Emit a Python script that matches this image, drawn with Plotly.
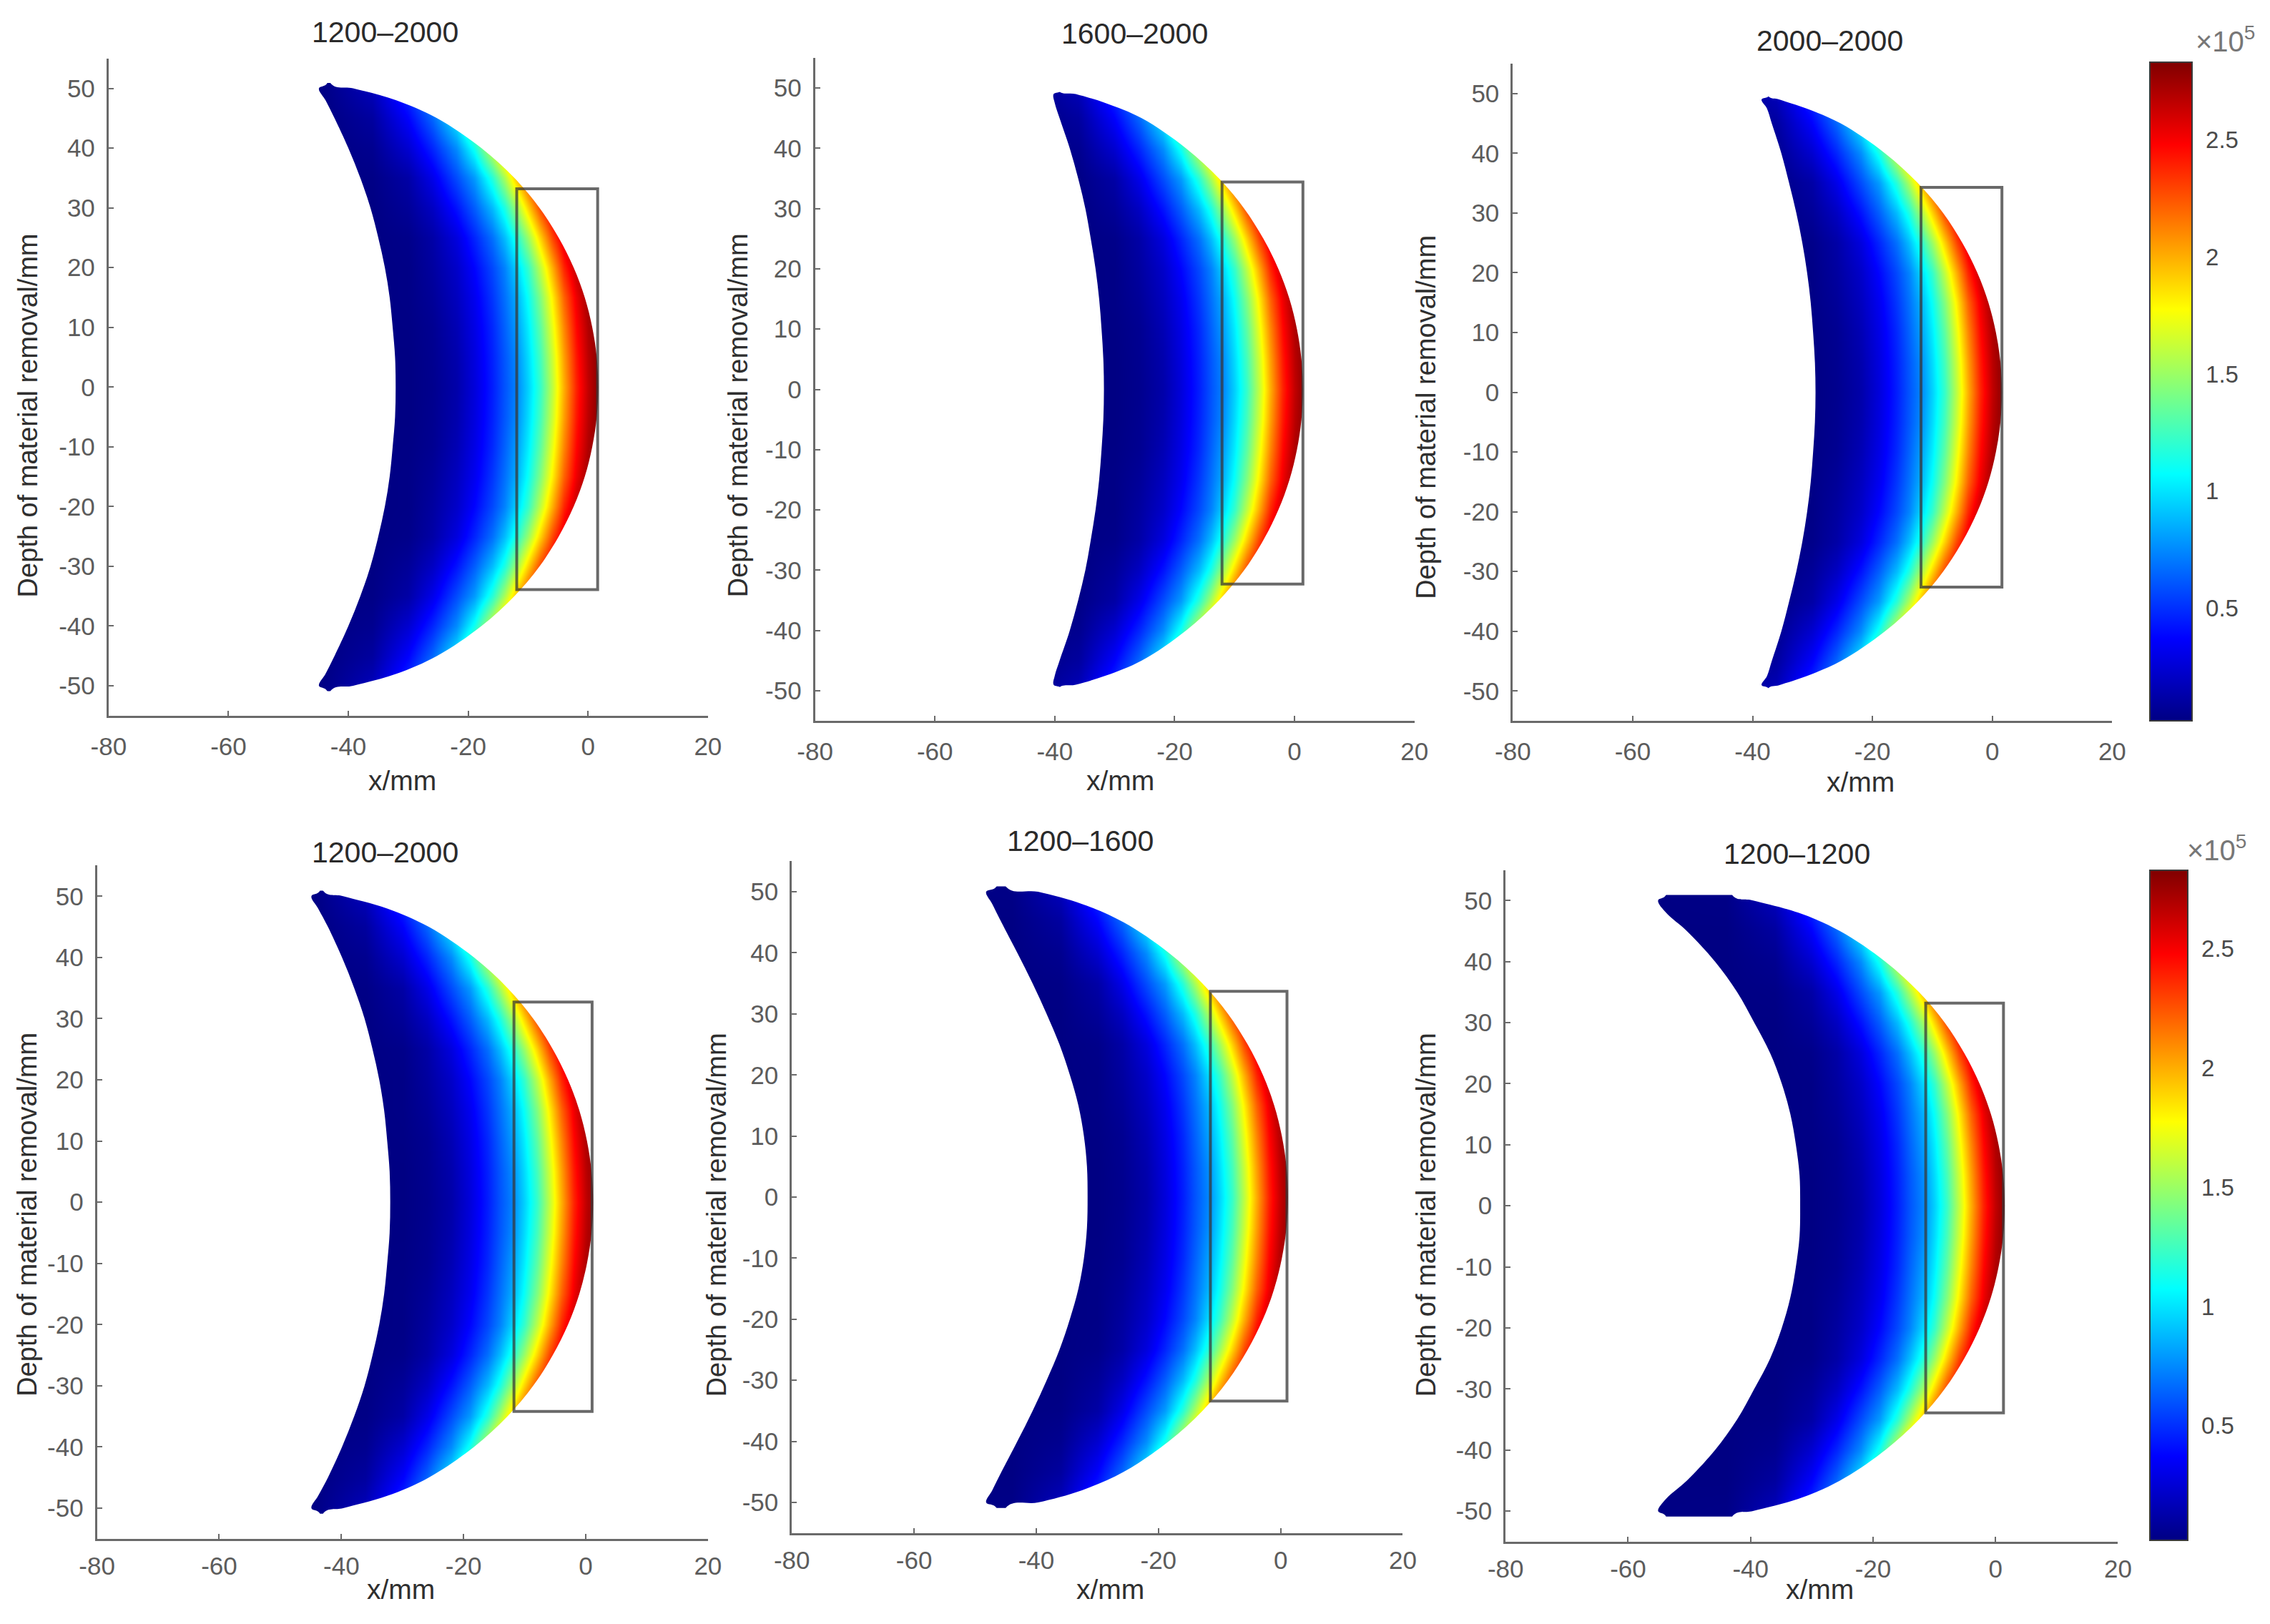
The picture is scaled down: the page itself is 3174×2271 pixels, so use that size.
import plotly.graph_objects as go

# ---------- data ----------
TITLES = ["1200–2000", "1600–2000", "2000–2000", "1200–2000", "1200–1600", "1200–1200"]
X_TICKS = [-80, -60, -40, -20, 0, 20]
Y_TICKS = [-50, -40, -30, -20, -10, 0, 10, 20, 30, 40, 50]
BAR_TICKS = [0.5, 1, 1.5, 2, 2.5]
Z_MIN, Z_MAX = 0.02, 2.83

# field values (x 10^5) on a coarse table, upper half of the crescent
FIELD_X = [-60, -44, -36, -30, -26, -22, -19, -16, -14, -12, -10, -8, -6, -4, -2, 0, 2, 5]
FIELD_Y = [0, 5, 10, 15, 20, 25, 30, 35, 40, 45, 50, 52]
FIELD_Z = [
    [.02, .02, .02, .02, .05, .13, .27, .45, .60, .73, .95, 1.22, 1.60, 2.00, 2.38, 2.65, 2.83, 2.83],
    [.02, .02, .02, .02, .055, .14, .28, .46, .61, .75, .98, 1.26, 1.64, 2.04, 2.41, 2.67, 2.83, 2.83],
    [.02, .02, .02, .025, .06, .16, .30, .48, .64, .80, 1.03, 1.33, 1.72, 2.11, 2.46, 2.70, 2.83, 2.83],
    [.02, .02, .02, .03, .08, .19, .33, .52, .68, .85, 1.10, 1.43, 1.82, 2.21, 2.52, 2.75, 2.83, 2.83],
    [.02, .02, .02, .03, .10, .22, .38, .57, .73, .95, 1.22, 1.60, 2.00, 2.38, 2.65, 2.83, 2.83, 2.83],
    [.02, .02, .02, .04, .12, .28, .47, .68, .89, 1.15, 1.50, 1.90, 2.29, 2.58, 2.79, 2.83, 2.83, 2.83],
    [.02, .02, .02, .08, .20, .42, .63, .89, 1.15, 1.50, 1.90, 2.29, 2.58, 2.79, 2.83, 2.83, 2.83, 2.83],
    [.02, .02, .03, .12, .31, .58, .80, 1.18, 1.54, 1.94, 2.32, 2.61, 2.80, 2.83, 2.83, 2.83, 2.83, 2.83],
    [.02, .02, .056, .24, .47, .76, 1.12, 1.66, 2.06, 2.42, 2.68, 2.83, 2.83, 2.83, 2.83, 2.83, 2.83, 2.83],
    [.02, .02, .10, .37, .65, 1.04, 1.54, 2.13, 2.47, 2.71, 2.83, 2.83, 2.83, 2.83, 2.83, 2.83, 2.83, 2.83],
    [.02, .03, .18, .52, .84, 1.41, 2.00, 2.50, 2.74, 2.83, 2.83, 2.83, 2.83, 2.83, 2.83, 2.83, 2.83, 2.83],
    [.02, .03, .18, .52, .84, 1.41, 2.00, 2.50, 2.74, 2.83, 2.83, 2.83, 2.83, 2.83, 2.83, 2.83, 2.83, 2.83],
]

# crescent outlines, upper half
EDGE_Y_50 = [0, 5, 10, 15, 20, 25, 30, 35, 40, 45, 48, 50, 50.9]
EDGE_Y_49 = [0, 5, 10, 15, 20, 25, 30, 35, 40, 45, 47.5, 49, 49.7]
EDGE_Y = [EDGE_Y_50, EDGE_Y_49, EDGE_Y_49, EDGE_Y_50, EDGE_Y_50, EDGE_Y_50]
EDGE_LEFT = [
    [-32.1, -32.2, -32.6, -33.1, -33.9, -35.0, -36.3, -38.0, -40.0, -42.3, -43.8, -44.9, -43.5],
    [-31.8, -31.9, -32.2, -32.6, -33.2, -34.0, -34.9, -36.1, -37.5, -39.2, -40.0, -40.2, -38.8],
    [-29.5, -29.6, -29.9, -30.3, -30.9, -31.7, -32.7, -33.9, -35.2, -36.8, -37.6, -38.5, -37.2],
    [-32.0, -32.1, -32.5, -33.0, -33.8, -34.9, -36.2, -37.9, -39.9, -42.2, -43.8, -44.9, -43.5],
    [-31.6, -31.7, -32.2, -33.1, -34.5, -36.2, -38.3, -40.6, -43.1, -45.7, -47.2, -48.2, -46.5],
    [-31.9, -32.0, -32.6, -33.5, -34.9, -36.8, -39.4, -42.2, -45.8, -50.4, -53.8, -55.1, -53.8],
]
EDGE_RIGHT = [
    [1.7, 1.45, 0.7, -0.55, -2.4, -4.9, -8.1, -12.3, -17.8, -25.2, -32.0, -39.2, -43.0],
    [1.4, 1.15, 0.4, -0.85, -2.7, -5.2, -8.4, -12.6, -18.1, -25.5, -31.5, -36.5, -39.5],
    [1.6, 1.35, 0.6, -0.65, -2.5, -5.0, -8.2, -12.4, -17.9, -25.3, -31.0, -35.5, -37.5],
    [1.2, 0.95, 0.2, -1.05, -2.9, -5.4, -8.6, -12.8, -18.3, -25.7, -32.5, -39.7, -43.0],
    [1.2, 0.95, 0.2, -1.05, -2.9, -5.4, -8.6, -12.8, -18.3, -25.7, -32.5, -39.7, -45.0],
    [1.5, 1.25, 0.5, -0.75, -2.6, -5.1, -8.3, -12.5, -18.0, -25.4, -32.2, -39.6, -43.0],
]

# outlined boxes: x0, x1, y0, y1
BOXES = [
    [-11.9, 1.6, -33.9, 33.2],
    [-12.1, 1.4, -32.3, 34.4],
    [-11.9, 1.6, -32.6, 34.3],
    [-11.75, 1.04, -34.2, 32.7],
    [-11.5, 1.04, -33.4, 33.7],
    [-11.4, 1.3, -33.9, 33.2],
]

# ---------- layout, pixel positions ----------
W, H = 3174, 2271
S = 3174 / 1568          # positions below are measured on the 1568 wide view
PAGE = 8                 # the page body's own margin
AX_X = [(75, 489), (563, 977), (1045, 1459), (67, 489), (547, 969), (1040, 1463)]
AX_Y = [(40.4, 494.4), (40, 498), (44, 498), (598, 1063), (595, 1059), (601, 1065)]
TITLE_POS = [(266, 22), (784, 23), (1264, 28), (266, 589), (746, 581), (1241, 590)]
XLAB_POS = [(278, 539), (774, 539), (1285, 540), (277, 1098), (767, 1098), (1257, 1098)]
YLAB_POS = [(19, 287), (510, 287), (985, 288), (19, 839), (495, 839), (985, 839)]
X_STANDOFF = [10, 10, 10, 5, 5, 5]
BARS = {2: (1485, 1514, 43, 498, (1537, 27)), 5: (1485, 1511, 601, 1064, (1531, 586))}

FONT = "Liberation Sans"
TICK_C = "#5c5c5c"
AXIS_C = "#6a6a6a"
JET = [[0, "#000083"], [0.125, "#0000FF"], [0.375, "#00FFFF"], [0.625, "#FFFF00"],
       [0.875, "#FF0000"], [1, "#800000"]]


def fx(px):
    return (px * S - PAGE) / W


def fy(py):
    return 1 - (py * S - PAGE) / H


def note(text, px, py, size, color, angle=0):
    return dict(text=text, x=fx(px), y=fy(py), xref="paper", yref="paper", showarrow=False,
                xanchor="center", yanchor="middle", textangle=angle,
                font=dict(family=FONT, size=size, color=color))


rows_y = [-v for v in reversed(FIELD_Y[1:])] + FIELD_Y
rows_z = list(reversed(FIELD_Z[1:])) + FIELD_Z

fig = go.Figure()
shapes, annotations = [], []
layout = {}

for i in range(6):
    suf = "" if i == 0 else str(i + 1)
    xa, ya = "x" + suf, "y" + suf

    trace = dict(x=FIELD_X, y=rows_y, z=rows_z, zsmooth="best", zmin=Z_MIN, zmax=Z_MAX,
                 colorscale=JET, xaxis=xa, yaxis=ya, hoverinfo="skip")
    if i in BARS:
        x0, x1, y0, y1, unit = BARS[i]
        trace["showscale"] = True
        trace["colorbar"] = dict(
            x=fx(x0), xanchor="left", xpad=0, y=fy(y1), yanchor="bottom", ypad=0,
            len=(y1 - y0) * S / H, lenmode="fraction",
            thickness=(x1 - x0) * S, thicknessmode="pixels",
            outlinecolor="#3a3a3a", outlinewidth=2, tickvals=BAR_TICKS,
            ticktext=[f"{v:g}" for v in BAR_TICKS],
            ticks="outside", ticklen=12, tickcolor="rgba(0,0,0,0)",
            tickfont=dict(family=FONT, size=33, color="#4a4a4a"),
        )
        for v in BAR_TICKS:
            py = fy(y1) + (v - Z_MIN) / (Z_MAX - Z_MIN) * (y1 - y0) * S / H
            shapes.append(dict(type="line", xref="paper", yref="paper",
                               x0=fx(x1) - 10 / W, x1=fx(x1), y0=py, y1=py,
                               line=dict(color="#333333", width=2)))
        annotations.append(note("×10<sup>5</sup>", unit[0], unit[1], 40, "#777777"))
    else:
        trace["showscale"] = False
    fig.add_trace(go.Heatmap(**trace))

    ey, el, er = EDGE_Y[i], EDGE_LEFT[i], EDGE_RIGHT[i]
    down_y = list(reversed(ey)) + [-v for v in ey[1:]]
    # white cover over the table outside the crescent
    for edge, outer in ((el, -120), (er, 60)):
        edge_x = list(reversed(edge)) + edge[1:]
        fig.add_trace(go.Scatter(
            x=[outer, edge[-1]] + edge_x + [edge[-1], outer],
            y=[90, 90] + down_y + [-90, -90],
            mode="lines", line=dict(width=0, shape="spline", smoothing=1.0, simplify=False),
            fill="toself", fillcolor="white",
            xaxis=xa, yaxis=ya, hoverinfo="skip", showlegend=False))
    for sign in (1, -1):
        fig.add_trace(go.Scatter(
            x=[-120, 60, 60, -120], y=[sign * ey[-1], sign * ey[-1], sign * 90, sign * 90],
            mode="lines", line=dict(width=0), fill="toself", fillcolor="white",
            xaxis=xa, yaxis=ya, hoverinfo="skip", showlegend=False))

    bx0, bx1, by0, by1 = BOXES[i]
    shapes.append(dict(type="rect", xref=xa, yref=ya, x0=bx0, x1=bx1, y0=by0, y1=by1,
                       line=dict(color="rgba(55,55,55,0.75)", width=4)))

    common = dict(showgrid=False, zeroline=False, showline=True, linecolor=AXIS_C, linewidth=3,
                  ticks="inside", ticklen=7, tickwidth=2, tickcolor=AXIS_C,
                  tickfont=dict(family=FONT, size=35, color=TICK_C))
    layout["xaxis" + suf] = dict(common, domain=[fx(AX_X[i][0]), fx(AX_X[i][1])], anchor=ya,
                                 range=[-80, 20], tickvals=X_TICKS,
                                 ticktext=[str(v) for v in X_TICKS],
                                 ticklabelstandoff=X_STANDOFF[i])
    layout["yaxis" + suf] = dict(common, domain=[fy(AX_Y[i][1]), fy(AX_Y[i][0])], anchor=xa,
                                 range=[-55, 55], tickvals=Y_TICKS,
                                 ticktext=[str(v) for v in Y_TICKS], ticklabelstandoff=9)

    annotations.append(note(TITLES[i], *TITLE_POS[i], 41, "#2a2a2a"))
    annotations.append(note("x/mm", *XLAB_POS[i], 39, "#2f2f2f"))
    annotations.append(note("Depth of material removal/mm", *YLAB_POS[i], 38, "#2f2f2f", -90))

fig.update_layout(width=W, height=H, autosize=False,
                  margin=dict(l=0, r=0, t=0, b=0, pad=0, autoexpand=False),
                  paper_bgcolor="white", plot_bgcolor="white", showlegend=False,
                  shapes=shapes, annotations=annotations, **layout)
fig.write_html("out.html")
